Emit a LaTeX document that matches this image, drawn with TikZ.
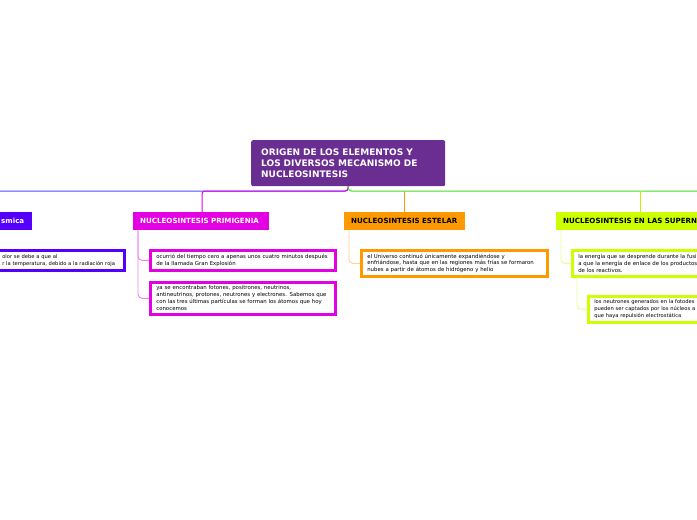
\documentclass[tikz,border=0pt]{standalone}
\usepackage{fontspec}
\setmainfont{DejaVu Sans}
\definecolor{rootc}{HTML}{6A2D91}
\definecolor{bluec}{HTML}{5500FF}
\definecolor{bluel}{HTML}{4D4DFF}
\definecolor{magc}{HTML}{E300E3}
\definecolor{magl}{HTML}{F080F0}
\definecolor{orac}{HTML}{FF9900}
\definecolor{oral}{HTML}{FFD08A}
\definecolor{ylwc}{HTML}{CCFF00}
\definecolor{ylwd}{HTML}{C8F000}
\definecolor{ylwl}{HTML}{E6FF99}
\definecolor{grnc}{HTML}{44DD22}
\tikzset{
  rootbox/.style={fill=rootc, rounded corners=2pt, text=white, anchor=north west,
    font=\fontsize{9}{11}\selectfont\bfseries, align=left, inner xsep=10pt, inner ysep=0pt},
  branchbox/.style={anchor=north west, minimum height=18pt, inner ysep=0pt, inner xsep=7pt,
    font=\fontsize{7.1}{8}\selectfont\bfseries, align=left},
  childbox/.style={anchor=north west, draw=#1, line width=2.6pt, fill=white, inner xsep=6pt, inner ysep=0pt,
    font=\fontsize{5.4}{6.9}\selectfont, align=left},
  conn/.style={line width=1pt, rounded corners=3pt},
  sub/.style={line width=0.9pt, rounded corners=4pt}
}
\begin{document}
\begin{tikzpicture}[x=1pt,y=-1pt]
\useasboundingbox[fill=white] (0,0) rectangle (697,520);
% root
\node[rootbox, minimum width=194pt, minimum height=46pt, text width=174pt] (root) at (251,140)
  {ORIGEN DE LOS ELEMENTOS Y\\LOS DIVERSOS MECANISMO DE\\NUCLEOSINTESIS};
% branches
\node[branchbox, fill=bluec, text=white, minimum width=38pt, text width=24pt] (b1) at (-6,212) {smica};
\node[branchbox, fill=magc, text=white, minimum width=136pt, text width=122pt] (b2) at (133,212) {NUCLEOSINTESIS PRIMIGENIA};
\node[branchbox, fill=orac, text=black, minimum width=121pt, text width=107pt] (b3) at (344,212) {NUCLEOSINTESIS ESTELAR};
\node[branchbox, fill=ylwc, text=black, minimum width=160pt, text width=146pt] (b4) at (556,212) {NUCLEOSINTESIS EN LAS SUPERN};
% children
\node[childbox=bluec, minimum width=126pt, minimum height=20pt, inner xsep=4pt, text width=118pt, font=\fontsize{5.2}{6.9}\selectfont] (c1) at (-3,249)
  {olor se debe a que al\\r la temperatura, debido a la radiación roja};
\node[childbox=magc, minimum width=185pt, minimum height=20pt, text width=173pt] (c2) at (149,249)
  {ocurrió del tiempo cero a apenas unos cuatro minutos después\\de la llamada Gran Explosión};
\node[childbox=magc, minimum width=185pt, minimum height=32pt, text width=173pt] (c3) at (149,281)
  {ya se encontraban fotones, positrones, neutrinos,\\antineutrinos, protones, neutrones y electrones. Sabemos que\\con las tres últimas partículas se forman los átomos que hoy\\conocemos};
\node[childbox=orac, minimum width=186pt, minimum height=26pt, text width=174pt] (c4) at (360,249)
  {el Universo continuó únicamente expandiéndose y\\enfriándose, hasta que en las regiones más frías se formaron\\nubes a partir de átomos de hidrógeno y helio};
\node[childbox=ylwc, minimum width=160pt, minimum height=26pt, text width=148pt] (c5) at (571,249)
  {la energía que se desprende durante la fusi\\a que la energía de enlace de los productos\\de los reactivos.};
\node[childbox=ylwc, minimum width=140pt, minimum height=26pt, text width=128pt, font=\fontsize{5.2}{6.9}\selectfont] (c6) at (587,295)
  {los neutrones generados en la fotodes\\pueden ser captados por los núcleos a\\que haya repulsión electrostática};
% main connectors
\coordinate (leftend) at (-5,191);
\coordinate (rightend) at (702,191);
\draw[conn, bluel] (root.south) |- (leftend);
\draw[conn, magc] (root.south) |- (202,191) -- (b2.north -| 202,0);
\draw[conn, grnc] (root.south) |- (rightend);
\draw[conn, orac] (404,191) -- (b3.north -| 404,0);
\draw[conn, ylwd] (640,191) -- (b4.north -| 640,0);
% sub connectors
\draw[sub, magl] (b2.south -| 138,0) |- (c2.west);
\draw[sub, magl] (b2.south -| 138,0) |- (c3.west);
\draw[sub, oral] (b3.south -| 349,0) |- (c4.west);
\draw[sub, ylwl] (b4.south -| 561,0) |- (c5.west);
\draw[sub, ylwl] (c5.south -| 577,0) |- (c6.west);
\end{tikzpicture}
\end{document}
